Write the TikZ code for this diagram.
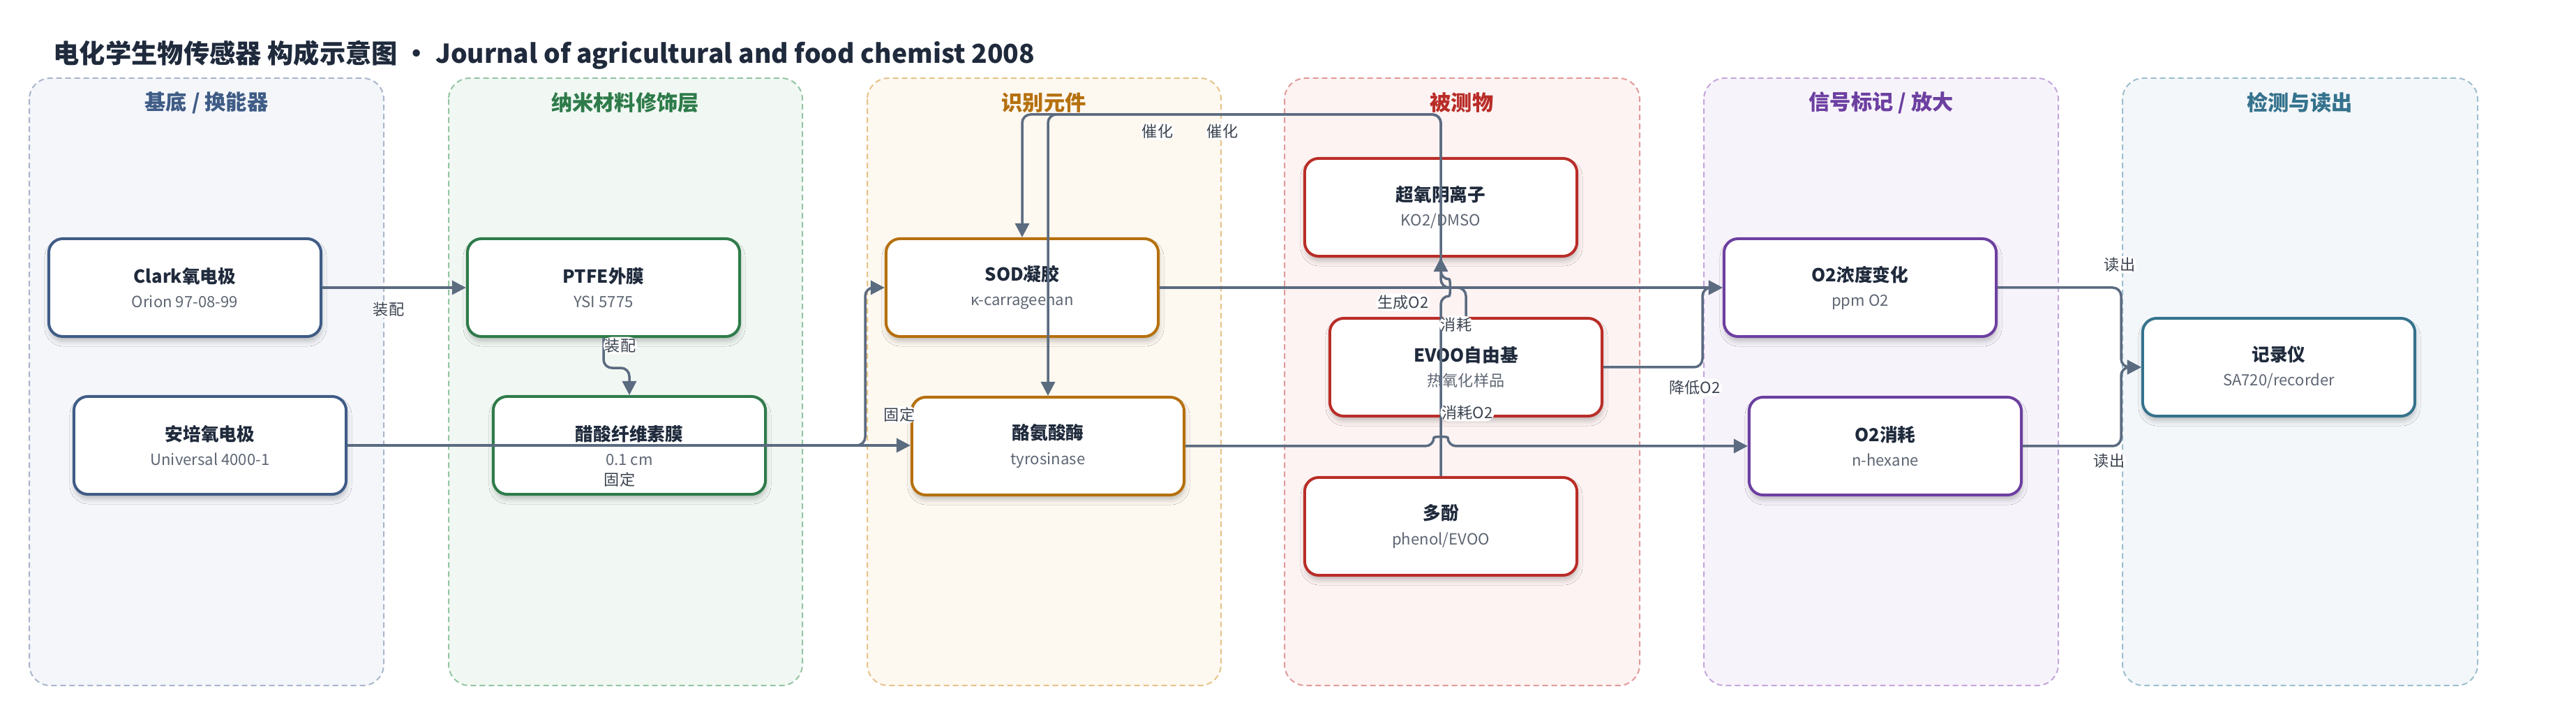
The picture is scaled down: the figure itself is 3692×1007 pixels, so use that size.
\documentclass[tikz,border=0pt]{standalone}
\usepackage{fontspec}
\setmainfont{Noto Sans CJK SC}
\usepackage{xcolor}
\usepackage{tikz}
\usetikzlibrary{arrows.meta,calc,shadows.blur}

\definecolor{edgecol}{HTML}{5B6B80}
\definecolor{ink}{HTML}{1F2A3C}
\definecolor{subgray}{HTML}{5E6673}
\definecolor{labelgray}{HTML}{3C4450}
% lanes: border, fill, title
\definecolor{laneAb}{HTML}{A9B6CB}\definecolor{laneAf}{HTML}{F4F6FA}\definecolor{laneAt}{HTML}{3F5C86}
\definecolor{laneBb}{HTML}{93C5A2}\definecolor{laneBf}{HTML}{F1F8F3}\definecolor{laneBt}{HTML}{2E7B4A}
\definecolor{laneCb}{HTML}{E6C389}\definecolor{laneCf}{HTML}{FDF8F0}\definecolor{laneCt}{HTML}{B5700E}
\definecolor{laneDb}{HTML}{E29A99}\definecolor{laneDf}{HTML}{FDF3F3}\definecolor{laneDt}{HTML}{B92D28}
\definecolor{laneEb}{HTML}{C4A6DC}\definecolor{laneEf}{HTML}{F7F3FB}\definecolor{laneEt}{HTML}{6C3FA0}
\definecolor{laneFb}{HTML}{9DBFCD}\definecolor{laneFf}{HTML}{F3F7F9}\definecolor{laneFt}{HTML}{35728D}

\tikzset{
    lane/.style 2 args={draw=#1, fill=#2, line width=0.02cm, dash pattern=on 0.08cm off 0.05cm, rounded corners=0.3cm},
    lanetitle/.style={font=\fontsize{8.6pt}{10pt}\selectfont\bfseries, text=#1},
    block/.style={draw=#1, fill=white, line width=0.04cm, rounded corners=0.2cm,
        minimum width=3.9cm, minimum height=1.4cm, inner sep=0pt, align=center,
        font=\fontsize{6.3pt}{10pt}\selectfont,
        blur shadow={shadow xshift=0.01cm, shadow yshift=-0.07cm, shadow blur radius=0.07cm, shadow opacity=22}},
    edge/.style={draw=edgecol, line width=0.035cm, rounded corners=0.12cm, -{Triangle[length=0.2cm,width=0.2cm]}},
    elabel/.style={fill=white, inner sep=0.6pt, font=\fontsize{6.3pt}{7pt}\selectfont, text=labelgray}
}
\newcommand{\blocktext}[2]{{\fontsize{7.3pt}{9pt}\selectfont\bfseries\color{ink}#1}\\{\color{subgray}#2}}

\begin{document}
\begin{tikzpicture}[x=0.01cm, y=-0.01cm]
\useasboundingbox (0,0) rectangle (3692,1007);

\node[anchor=west, inner sep=0pt, font=\fontsize{10.6pt}{12pt}\selectfont\bfseries, text=ink] (title) at (76,79)
    {电化学生物传感器 构成示意图 · Journal of agricultural and food chemist 2008};

%lanes
\draw[lane={laneAb}{laneAf}] (42,112) rectangle (550,982);
\draw[lane={laneBb}{laneBf}] (643,112) rectangle (1150,982);
\draw[lane={laneCb}{laneCf}] (1243,112) rectangle (1750,982);
\draw[lane={laneDb}{laneDf}] (1841,112) rectangle (2350,982);
\draw[lane={laneEb}{laneEf}] (2442,112) rectangle (2950,982);
\draw[lane={laneFb}{laneFf}] (3042,112) rectangle (3551,982);
\node[lanetitle=laneAt] (tA) at (296,147) {基底 / 换能器};
\node[lanetitle=laneBt] (tB) at (896,147) {纳米材料修饰层};
\node[lanetitle=laneCt] (tC) at (1496,147) {识别元件};
\node[lanetitle=laneDt] (tD) at (2095,147) {被测物};
\node[lanetitle=laneEt] (tE) at (2696,147) {信号标记 / 放大};
\node[lanetitle=laneFt] (tF) at (3296,147) {检测与读出};

%blocks
\node[block=laneAt] (clark) at (265,412) {\blocktext{Clark氧电极}{Orion 97-08-99}};
\node[block=laneAt] (amp) at (301,638) {\blocktext{安培氧电极}{Universal 4000-1}};
\node[block=laneBt] (ptfe) at (865,412) {\blocktext{PTFE外膜}{YSI 5775}};
\node[block=laneBt] (ca) at (902,638) {\blocktext{醋酸纤维素膜}{0.1 cm}};
\node[block=laneCt] (sod) at (1465,412) {\blocktext{SOD凝胶}{κ-carrageenan}};
\node[block=laneCt] (tyr) at (1502,639) {\blocktext{酪氨酸酶}{tyrosinase}};
\node[block=laneDt] (sox) at (2065,297) {\blocktext{超氧阴离子}{KO2/DMSO}};
\node[block=laneDt] (evoo) at (2101,526) {\blocktext{EVOO自由基}{热氧化样品}};
\node[block=laneDt] (poly) at (2065,754) {\blocktext{多酚}{phenol/EVOO}};
\node[block=laneEt] (o2c) at (2666,412) {\blocktext{O2浓度变化}{ppm O2}};
\node[block=laneEt] (o2u) at (2702,639) {\blocktext{O2消耗}{n-hexane}};
\node[block=laneFt] (rec) at (3266,526) {\blocktext{记录仪}{SA720/recorder}};

%draw connectors
\draw[edge] (clark) -- (ptfe) node[elabel] at (557,443) {装配};
\draw[edge] (ptfe.south) -- ++(0,43) -| (ca.north) node[elabel] at (889,495) {装配};
\draw[edge] (amp.east) -- (amp.east -| tyr.west) node[elabel] at (888,687) {固定};
\draw[edge] (ca.east) -- (1240,638) |- (sod.west) node[elabel] at (1289,594) {固定};
\draw[edge] (sox.north) -- (2065,164) -| (sod.north) node[elabel] at (1752,188) {催化};
\draw[edge] (poly.north) -- (2065,424) .. controls +(14,0) and +(14,0) .. (2065,400)
    -- (2065,164) -| (tyr.north) node[elabel] at (1659,188) {催化};
\draw[edge] (sod.east) -- (o2c.west) node[elabel] at (2011,433) {生成O2};
\draw[edge] (evoo.north) |- (2065,412) -- (sox.south) node[elabel] at (2087,465) {消耗};
\draw[edge] (evoo.east) -- (2440,526) |- (o2c.west) node[elabel] at (2429,555) {降低O2};
\draw[edge] (tyr.east) -- (2055,639) .. controls +(0,-14) and +(0,-14) .. (2075,639)
    -- (o2u.west) node[elabel] at (2103,591) {消耗O2};
\draw[edge] (o2c.east) -- (3040,412) |- (rec.west) node[elabel] at (3038,379) {读出};
\draw[edge] (o2u.east) -- (3040,639) |- (rec.west) node[elabel] at (3023,660) {读出};

\end{tikzpicture}
\end{document}
